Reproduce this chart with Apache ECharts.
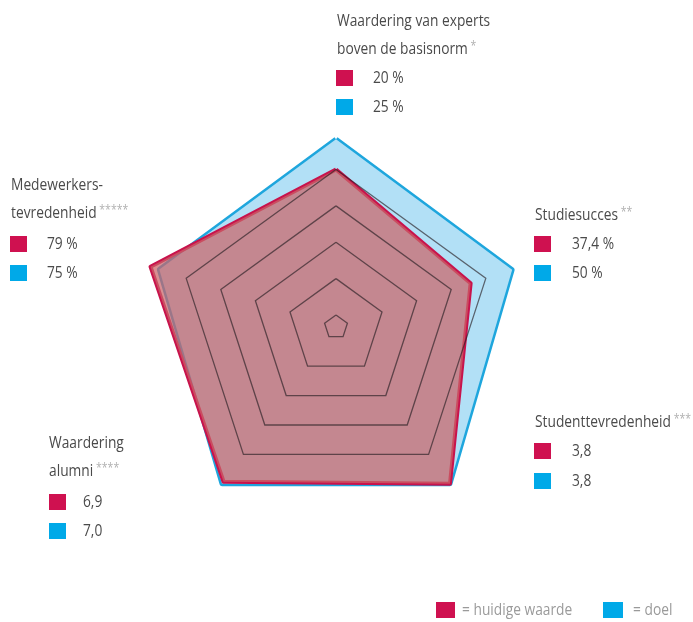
<!DOCTYPE html>
<html>
<head>
<meta charset="utf-8">
<script src="https://cdn.jsdelivr.net/npm/echarts@6/dist/echarts.min.js"></script>
<style>
html,body{margin:0;padding:0;background:#fff;}
#chart{width:693px;height:622px;}
</style>
</head>
<body>
<div id="chart"></div>
<script>
// ---- data (ECharts radar order: top, then counter-clockwise) ----
const indicatorNames = ['Waardering van experts\nboven de basisnorm', 'Medewerkers-\ntevredenheid', 'Waardering\nalumni', 'Studenttevredenheid', 'Studiesucces'];
const indicatorStars = ['*', '*****', '****', '***', '**'];
const currentValues = [20, 79, 6.9, 3.8, 37.4];
const goalValues = [25, 75, 7.0, 3.8, 50];
const valueUnits = ['%', '%', '', '', '%'];
const axisMin = [-4, 0, 0, 0, 0];
const axisMax = [20, 62.8, 5.6, 3.04, 42];
const seriesNames = ['huidige waarde', 'doel'];

// ---- styles / layout ----
const FONT = "'Open Sans', sans-serif";
const SX = 0.81; // horizontal squeeze to mimic the condensed face
const RED = '#cf1150';
const BLUE = '#00a9e8';
const TEXT = '#4a4a4a';
const labelLayout = [
  {tx: 337, ty: 21, sx: 336, vx: 373, rows: [78, 107]},
  {tx: 11, ty: 185, sx: 10, vx: 47, rows: [244, 273]},
  {tx: 49, ty: 443, sx: 49, vx: 83, rows: [502, 531]},
  {tx: 535, ty: 422, sx: 534, vx: 572, rows: [451, 481]},
  {tx: 535, ty: 215, sx: 534, vx: 572, rows: [244, 273]}
];
const legendLayout = [
  {rx: 436, rw: 19, tx: 462},
  {rx: 603, rw: 20, tx: 633}
];
const legendY = 610;

function fmt(v, unit) {
  if (unit === '%') return String(v).replace('.', ',') + ' %';
  return v.toFixed(1).replace('.', ',');
}

const graphics = [];
indicatorNames.forEach(function (name, i) {
  const L = labelLayout[i];
  const lines = name.split('\n');
  const txt = lines.map(function (l, k) {
    return '{n|' + l + '}' + (k === lines.length - 1 ? '{s| ' + indicatorStars[i] + '}' : '');
  }).join('\n');
  graphics.push({
    type: 'text', x: L.tx, y: L.ty - 14, z: 10, scaleX: SX,
    style: {
      text: txt, verticalAlign: 'top', align: 'left',
      rich: {
        n: {fontSize: 17, fontFamily: FONT, fill: TEXT, lineHeight: 28, height: 28},
        s: {fontSize: 13, fontFamily: FONT, fill: '#b0b0b0', lineHeight: 28, height: 28, padding: [0, 0, 6, 0]}
      }
    }
  });
  const vals = [currentValues[i], goalValues[i]];
  const cols = [RED, BLUE];
  vals.forEach(function (v, k) {
    graphics.push({
      type: 'rect', z: 10,
      shape: {x: L.sx, y: L.rows[k] - 8, width: 17, height: 16},
      style: {fill: cols[k]}
    });
    graphics.push({
      type: 'text', x: L.vx, y: L.rows[k], z: 10, scaleX: SX,
      style: {text: fmt(v, valueUnits[i]), fontSize: 17, fontFamily: FONT, fill: TEXT, verticalAlign: 'middle', align: 'left'}
    });
  });
});
// bottom key
[RED, BLUE].forEach(function (c, k) {
  const G = legendLayout[k];
  graphics.push({
    type: 'rect', z: 10,
    shape: {x: G.rx, y: legendY - 8, width: G.rw, height: 16},
    style: {fill: c}
  });
  graphics.push({
    type: 'text', x: G.tx, y: legendY, z: 10, scaleX: SX,
    style: {text: '= ' + seriesNames[k], fontSize: 17, fontFamily: FONT, fill: '#9a9a9a', verticalAlign: 'middle', align: 'left'}
  });
});

const chart = echarts.init(document.getElementById('chart'), null, {renderer: 'canvas'});
chart.setOption({
  animation: false,
  backgroundColor: '#ffffff',
  radar: {
    center: [336, 327],
    radius: [12, 157.5],
    startAngle: 90,
    splitNumber: 4,
    shape: 'polygon',
    z: 5,
    axisName: {show: false},
    axisLine: {show: false},
    axisTick: {show: false},
    axisLabel: {show: false},
    splitArea: {show: false},
    splitLine: {lineStyle: {color: 'rgba(40,30,35,0.65)', width: 1.3}},
    indicator: indicatorNames.map(function (n, i) {
      return {name: n, min: axisMin[i], max: axisMax[i]};
    })
  },
  graphic: graphics,
  series: [
    {
      type: 'radar', name: seriesNames[1], symbol: 'none',
      itemStyle: {color: BLUE},
      lineStyle: {color: '#1ea6dd', width: 5},
      areaStyle: {color: '#b2e0f6', opacity: 1},
      data: [{value: goalValues, name: seriesNames[1]}]
    },
    {
      type: 'radar', name: seriesNames[0], symbol: 'none',
      itemStyle: {color: RED},
      lineStyle: {color: '#c8134c', width: 4},
      areaStyle: {color: 'rgb(203,100,104)', opacity: 0.72},
      data: [{value: currentValues, name: seriesNames[0]}]
    }
  ]
});
</script>
</body>
</html>
